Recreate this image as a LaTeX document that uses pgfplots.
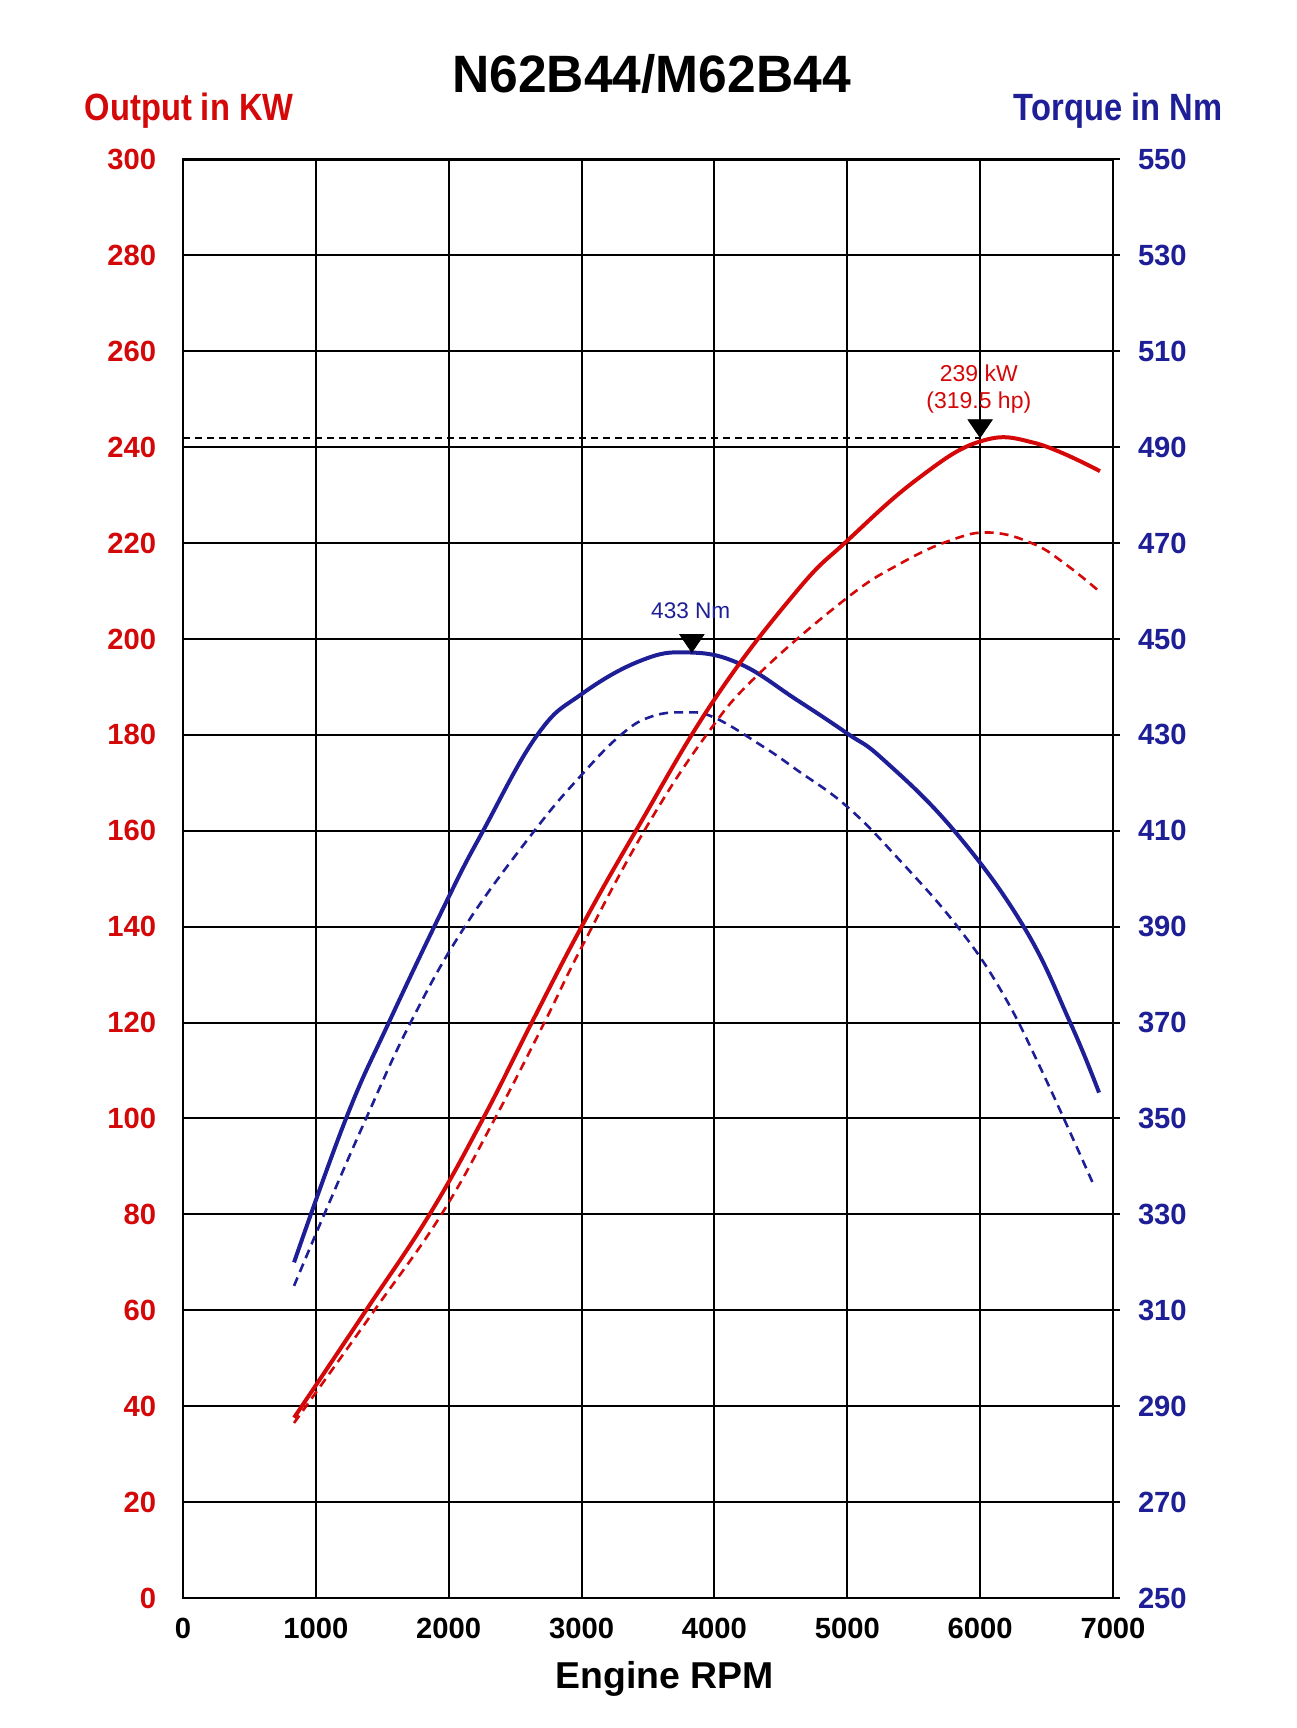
\documentclass[border=0pt]{standalone}
\usepackage{fontspec}
\setmainfont{Liberation Sans}
\newfontfamily\condfont{Liberation Sans}[FakeStretch=0.86]
\newfontfamily\titlefont{Liberation Sans}[FakeStretch=0.98]
\usepackage{pgfplots}
\pgfplotsset{compat=1.18}
\definecolor{pred}{RGB}{212,8,8}
\definecolor{tblue}{RGB}{30,30,150}
\begin{document}
\begin{tikzpicture}
\useasboundingbox (-91.5pt,-65pt) rectangle (556.5pt,799pt);
% ---------- torque axis (right) with grid ----------
\begin{axis}[
  at={(0,0)}, anchor=south west,
  scale only axis, width=465pt, height=719.25pt,
  xmin=0, xmax=7000, ymin=250, ymax=550,
  xtick={0,1000,...,7000}, ytick={250,270,...,550},
  grid=major, major grid style={black, line width=1pt},
  axis line style={black, line width=1.2pt},
  ytick pos=right, yticklabel pos=right, xticklabel pos=bottom,
  xtick style={draw=none},
  ytick style={black, line width=1pt},
  tick align=outside, major tick length=3.3pt,
  /pgf/number format/assume math mode=true,
  /pgf/number format/1000 sep={},
  ticklabel style={font=\bfseries\fontsize{14.6pt}{17pt}\selectfont},
  yticklabel style={text=tblue, anchor=west, inner sep=0pt, xshift=9pt},
  xticklabel style={anchor=base, inner sep=0pt, yshift=-16.9pt},
  clip=false,
]
\addplot[tblue, line width=2pt, smooth, tension=0.7] coordinates {
 (836,320) (1227,350) (1549,370) (2000,396.2) (2259,410) (2667,430)
 (3000,438.5) (3447,445.5) (3800,447.2) (4185,444.9) (4620,437.3) (5000,430.3)
 (5273,424.8) (5805,410) (6328,390) (6678,370) (6895,355.4)};
\addplot[tblue, line width=1.3pt, smooth, tension=0.7, dash pattern=on 4.5pt off 3pt] coordinates {
 (836,315.1) (1063,330) (1378,350) (1713,370) (2121,390) (2645,410)
 (2995,421.5) (3296,430) (3523,433.8) (3780,434.7) (4000,433.6) (4364,427.6)
 (4620,422.7) (5000,415) (5400,403.7) (5830,390) (6159,376.6) (6460,360.2)
 (6860,335.8)};
\addplot[only marks, mark=triangle*, mark size=7pt,
  mark options={fill=black, draw=black, rotate=180, yscale=0.85}] coordinates {(3830,449.7)};
\node[text=tblue, anchor=base, font=\fontsize{11.3pt}{13pt}\selectfont] at (axis cs:3822,454.2) {433 Nm};
\end{axis}
% ---------- power axis (left) ----------
\begin{axis}[
  at={(0,0)}, anchor=south west,
  scale only axis, width=465pt, height=719.25pt,
  xmin=0, xmax=7000, ymin=0, ymax=300,
  axis x line=none, axis y line*=left,
  ytick={0,20,...,300},
  axis line style={black, line width=1.2pt},
  ytick style={draw=none}, major tick length=0pt,
  /pgf/number format/assume math mode=true,
  ticklabel style={font=\bfseries\fontsize{14.6pt}{17pt}\selectfont},
  yticklabel style={text=pred, anchor=east, inner sep=0pt, xshift=-13.2pt},
  clip=false,
]
\addplot[black, line width=1pt, dash pattern=on 3.5pt off 2.5pt] coordinates {(0,242) (6000,242)};
\addplot[pred, line width=1.3pt, smooth, tension=0.7, dash pattern=on 4.5pt off 3pt] coordinates {
 (836,36.5) (1441,60) (1945,80) (2348,100) (2720,120) (3000,135.7) (3472,160)
 (3940,180) (4326,192.5) (4990,208.4) (5391,215.6) (5770,220.5) (6076,222.2)
 (6404,219.8) (6657,215.3) (6902,209.8)};
\addplot[pred, line width=2pt, smooth, tension=0.7] coordinates {
 (836,37.6) (1378,60) (1856,80) (2259,100) (2625,120) (3000,140) (3409,160)
 (4000,187.4) (4620,210) (5000,220.5) (5525,233.3) (6000,241.2) (6409,240.9)
 (6902,235)};
\addplot[only marks, mark=triangle*, mark size=7pt,
  mark options={fill=black, draw=black, rotate=180, yscale=0.85}] coordinates {(6000,244.5)};
\node[text=pred, anchor=base, font=\fontsize{11.5pt}{13pt}\selectfont] at (axis cs:5990,253.8) {239 kW};
\node[text=pred, anchor=base, font=\fontsize{11.5pt}{13pt}\selectfont] at (axis cs:5990,248.0) {(319.5 hp)};
\end{axis}
% ---------- titles ----------
\node[anchor=base, font=\titlefont\bfseries\fontsize{26.3pt}{30pt}\selectfont] at (234.3pt,752.7pt) {N62B44/M62B44};
\node[anchor=base, text=pred, font=\condfont\bfseries\fontsize{19pt}{22pt}\selectfont] at (3.1pt,738.5pt) {Output in KW};
\node[anchor=base, text=tblue, font=\condfont\bfseries\fontsize{19pt}{22pt}\selectfont] at (467.5pt,738.5pt) {Torque in Nm};
\node[anchor=base, font=\bfseries\fontsize{18.7pt}{22pt}\selectfont] at (240.8pt,-45pt) {Engine RPM};
\end{tikzpicture}
\end{document}
